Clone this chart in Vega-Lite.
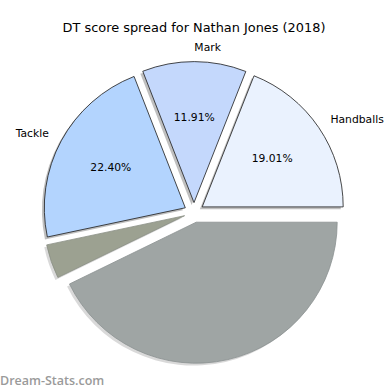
{
  "$schema": "https://vega.github.io/schema/vega-lite/v6.json",
  "padding": {"top": 21, "left": 0, "right": 0, "bottom": 0},
  "background": "white",
  "title": {"text": "DT score spread for Nathan Jones (2018)", "font": "DejaVu Sans", "fontSize": 12.9, "fontWeight": "normal", "color": "#000000", "anchor": "middle", "offset": 7},
  "vconcat": [
    {
      "width": 388,
      "height": 321,
      "title": {"text": "Dream-Stats.com", "orient": "bottom", "anchor": "start", "frame": "group", "baseline": "top", "font": "Open Sans", "fontSize": 12.5, "fontWeight": 600, "color": "#9a9a9a", "offset": -3},
      "data": {"values": [
        {"cat": "Handballs", "share": 0.1901, "order": 0},
        {"cat": "Mark", "share": 0.1191, "order": 1},
        {"cat": "Tackle", "share": 0.2240, "order": 2},
        {"cat": "Goal", "share": 0.0390, "order": 3},
        {"cat": "Kick", "share": 0.4278, "order": 4}
      ]},
      "transform": [{"stack": "share", "groupby": [], "sort": [{"field": "order", "order": "ascending"}], "as": ["s0", "s1"]}],
      "layer": [
        {
          "transform": [{"filter": "datum.cat === 'Handballs'"}],
          "mark": {"type": "arc", "radius": 141, "xOffset": 5.8, "yOffset": -3.2, "fill": "#000000", "fillOpacity": 0.25},
          "encoding": {
            "theta": {"field": "s0", "type": "quantitative", "scale": {"domain": [0, 1], "range": [1.5707963, -4.712389]}},
            "theta2": {"field": "s1"}
          }
        },
        {
          "transform": [{"filter": "datum.cat === 'Mark'"}],
          "mark": {"type": "arc", "radius": 141, "xOffset": -2.4, "yOffset": -7.5, "fill": "#000000", "fillOpacity": 0.25},
          "encoding": {
            "theta": {"field": "s0", "type": "quantitative", "scale": {"domain": [0, 1], "range": [1.5707963, -4.712389]}},
            "theta2": {"field": "s1"}
          }
        },
        {
          "transform": [{"filter": "datum.cat === 'Tackle'"}],
          "mark": {"type": "arc", "radius": 141, "xOffset": -11.1, "yOffset": -2.3, "fill": "#000000", "fillOpacity": 0.25},
          "encoding": {
            "theta": {"field": "s0", "type": "quantitative", "scale": {"domain": [0, 1], "range": [1.5707963, -4.712389]}},
            "theta2": {"field": "s1"}
          }
        },
        {
          "transform": [{"filter": "datum.cat === 'Goal'"}],
          "mark": {"type": "arc", "radius": 141, "xOffset": -11.8, "yOffset": 5.6, "fill": "#000000", "fillOpacity": 0.15},
          "encoding": {
            "theta": {"field": "s0", "type": "quantitative", "scale": {"domain": [0, 1], "range": [1.5707963, -4.712389]}},
            "theta2": {"field": "s1"}
          }
        },
        {
          "transform": [{"filter": "datum.cat === 'Kick'"}],
          "mark": {"type": "arc", "radius": 141, "xOffset": -0.2, "yOffset": 12.1, "fill": "#000000", "fillOpacity": 0.15},
          "encoding": {
            "theta": {"field": "s0", "type": "quantitative", "scale": {"domain": [0, 1], "range": [1.5707963, -4.712389]}},
            "theta2": {"field": "s1"}
          }
        },
        {
          "transform": [{"filter": "datum.cat === 'Handballs'"}],
          "mark": {"type": "arc", "radius": 141, "xOffset": 8.2, "yOffset": -5.6, "stroke": "#1a1a1a", "strokeWidth": 0.8},
          "encoding": {
            "theta": {"field": "s0", "type": "quantitative", "scale": {"domain": [0, 1], "range": [1.5707963, -4.712389]}},
            "theta2": {"field": "s1"},
            "color": {"field": "cat", "type": "nominal", "scale": {"domain": ["Handballs", "Mark", "Tackle", "Goal", "Kick"], "range": ["#eaf2fe", "#c4d8fc", "#b3d4fe", "#9ca191", "#9fa5a4"]}, "legend": null}
          }
        },
        {
          "transform": [{"filter": "datum.cat === 'Mark'"}],
          "mark": {"type": "arc", "radius": 141, "xOffset": 0, "yOffset": -9.9, "stroke": "#1a1a1a", "strokeWidth": 0.8},
          "encoding": {
            "theta": {"field": "s0", "type": "quantitative", "scale": {"domain": [0, 1], "range": [1.5707963, -4.712389]}},
            "theta2": {"field": "s1"},
            "color": {"field": "cat", "type": "nominal", "legend": null}
          }
        },
        {
          "transform": [{"filter": "datum.cat === 'Tackle'"}],
          "mark": {"type": "arc", "radius": 141, "xOffset": -8.7, "yOffset": -4.7, "stroke": "#1a1a1a", "strokeWidth": 0.8},
          "encoding": {
            "theta": {"field": "s0", "type": "quantitative", "scale": {"domain": [0, 1], "range": [1.5707963, -4.712389]}},
            "theta2": {"field": "s1"},
            "color": {"field": "cat", "type": "nominal", "legend": null}
          }
        },
        {
          "transform": [{"filter": "datum.cat === 'Goal'"}],
          "mark": {"type": "arc", "radius": 141, "xOffset": -9.4, "yOffset": 3.2, "stroke": "#8a8f85", "strokeWidth": 0.8},
          "encoding": {
            "theta": {"field": "s0", "type": "quantitative", "scale": {"domain": [0, 1], "range": [1.5707963, -4.712389]}},
            "theta2": {"field": "s1"},
            "color": {"field": "cat", "type": "nominal", "legend": null}
          }
        },
        {
          "transform": [{"filter": "datum.cat === 'Kick'"}],
          "mark": {"type": "arc", "radius": 141, "xOffset": 2.2, "yOffset": 9.7, "stroke": "#8a9090", "strokeWidth": 0.8},
          "encoding": {
            "theta": {"field": "s0", "type": "quantitative", "scale": {"domain": [0, 1], "range": [1.5707963, -4.712389]}},
            "theta2": {"field": "s1"},
            "color": {"field": "cat", "type": "nominal", "legend": null}
          }
        },
        {
          "mark": {"type": "text", "radius": 165, "align": "left", "baseline": "middle", "font": "DejaVu Sans", "fontSize": 10.75, "color": "#000000"},
          "encoding": {
            "theta": {"field": "share", "type": "quantitative", "stack": true, "scale": {"domain": [0, 1], "range": [1.5707963, -4.712389]}},
            "order": {"field": "order", "type": "quantitative"},
            "detail": {"field": "cat", "type": "nominal"},
            "text": {"condition": {"test": "datum.cat === 'Handballs' || datum.cat === 'Mark'", "field": "cat", "type": "nominal"}, "value": ""}
          }
        },
        {
          "mark": {"type": "text", "radius": 165, "align": "right", "baseline": "middle", "font": "DejaVu Sans", "fontSize": 10.75, "color": "#000000"},
          "encoding": {
            "theta": {"field": "share", "type": "quantitative", "stack": true, "scale": {"domain": [0, 1], "range": [1.5707963, -4.712389]}},
            "order": {"field": "order", "type": "quantitative"},
            "detail": {"field": "cat", "type": "nominal"},
            "text": {"condition": {"test": "datum.cat === 'Tackle'", "field": "cat", "type": "nominal"}, "value": ""}
          }
        },
        {
          "mark": {"type": "text", "radius": 94.5, "align": "center", "baseline": "middle", "font": "DejaVu Sans", "fontSize": 10.75, "color": "#000000"},
          "encoding": {
            "theta": {"field": "share", "type": "quantitative", "stack": true, "scale": {"domain": [0, 1], "range": [1.5707963, -4.712389]}},
            "order": {"field": "order", "type": "quantitative"},
            "detail": {"field": "cat", "type": "nominal"},
            "text": {"condition": {"test": "datum.cat === 'Handballs' || datum.cat === 'Mark' || datum.cat === 'Tackle'", "field": "share", "type": "quantitative", "format": ".2%"}, "value": ""}
          }
        }
      ]
    }
  ],
  "config": {"view": {"stroke": null}}
}
